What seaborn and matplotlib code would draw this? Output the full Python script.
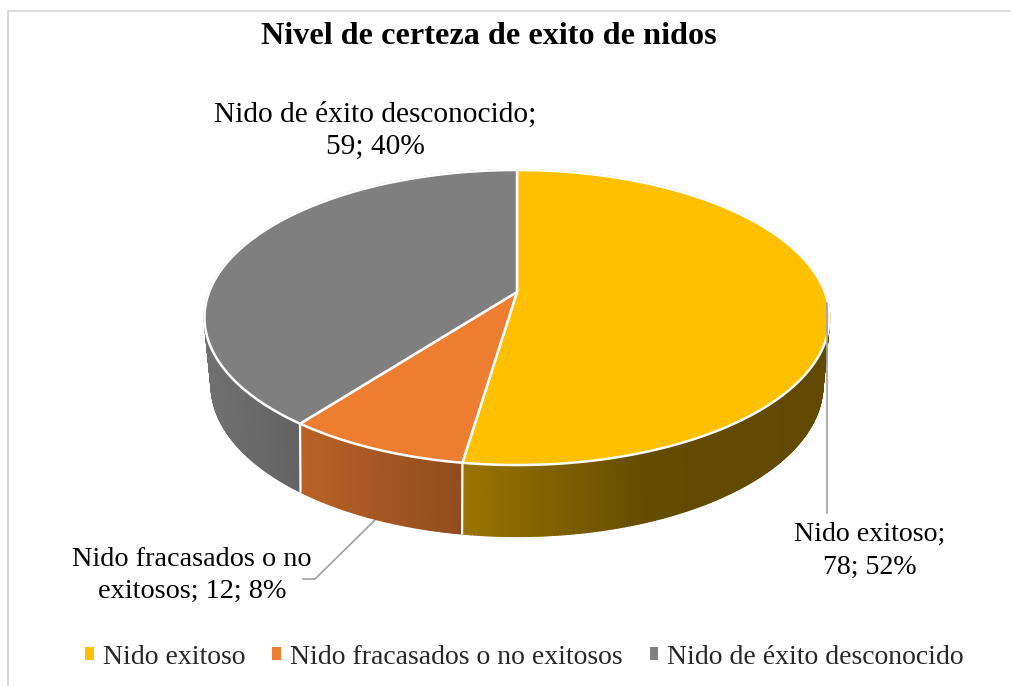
import numpy as np
import pandas as pd
import matplotlib.pyplot as plt
import seaborn as sns
from matplotlib.collections import PolyCollection
from matplotlib.patches import Patch

categorias = ['Nido exitoso', 'Nido fracasados o no exitosos', 'Nido de éxito desconocido']
valores = [78, 12, 59]
porcentajes = ['52%', '8%', '40%']
colores = ['#FFC000', '#ED7D31', '#7F7F7F']

sns.set_theme(style='white')
plt.rcParams['font.family'] = ['Liberation Serif', 'DejaVu Serif']

df = pd.DataFrame({'cat': categorias, 'val': valores, 'pct': porcentajes})
df['fin'] = df['val'].cumsum() / df['val'].sum() * 2 * np.pi
df['ini'] = df['fin'].shift(1).fillna(0)
paleta = sns.color_palette(colores)


# disco en perspectiva: angulo desde arriba, sentido horario
def tapa(t):
    d = 1 + 0.173 * np.cos(t)
    return 517 + 307.8 * np.sin(t) / d, 292 - 143.1 * np.cos(t) / d


def base(t):
    d = 1 + 0.2 * np.cos(t)
    return 517 + 299.5 * np.sin(t) / d, 355 - 145 * np.cos(t) / d


def sombra(x):
    return np.interp(x, [205, 303, 462, 650, 830], [0.88, 0.78, 0.61, 0.39, 0.38])


fig = plt.figure(figsize=(10.12, 6.86), dpi=100)
ax = fig.add_axes([0, 0, 1, 1])
ax.set_xlim(0, 1012)
ax.set_ylim(686, 0)
ax.axis('off')

# marco
ax.plot([8, 8, 1012], [686, 11, 11], color='#D9D9D9', lw=1.5, zorder=1)

# lineas guia
ax.plot([827, 827], [303, 513], color='#A6A6A6', lw=1.3, zorder=6)
ax.plot([375, 315, 303], [520, 579, 579], color='#A6A6A6', lw=1.3, zorder=1)

# lateral
for i, fila in df.iterrows():
    t = np.linspace(fila['ini'], fila['fin'], int((fila['fin'] - fila['ini']) * 120) + 2)
    x0, y0 = tapa(t)
    x1, y1 = base(t)
    quads = []
    tonos = []
    for k in range(len(t) - 1):
        quads.append([(x0[k], y0[k]), (x0[k + 1], y0[k + 1]), (x1[k + 1], y1[k + 1]), (x1[k], y1[k])])
        tonos.append(np.array(paleta[i]) * sombra((x0[k] + x1[k]) / 2))
    ax.add_collection(PolyCollection(quads, facecolors=tonos, edgecolors=tonos, linewidths=1.2, zorder=2))

# separaciones del lateral
for ang in df['fin'].iloc[:2]:
    xa, ya = tapa(ang)
    xb, yb = base(ang)
    ax.plot([xa, xb], [ya, yb], color='white', lw=1.6, zorder=3)

# tapa
for i, fila in df.iterrows():
    t = np.linspace(fila['ini'], fila['fin'], 300)
    xs, ys = tapa(t)
    xh, yh = 517, 292
    ax.fill(np.r_[xh, xs], np.r_[yh, ys], facecolor=paleta[i], edgecolor='white', lw=1.8, joinstyle='round', zorder=4)

# etiquetas
etq = dict(ha='center', va='center', color='black', zorder=7)
ax.text(870, 551, f"{df.cat[0]};\n{df.val[0]}; {df.pct[0]}", fontsize=20.1, linespacing=1.38, **etq)
ax.text(192, 575, f"Nido fracasados o no\nexitosos; {df.val[1]}; {df.pct[1]}", fontsize=20.3, linespacing=1.36, **etq)
ax.text(375, 130.5, f"{df.cat[2]};\n{df.val[2]}; {df.pct[2]}", fontsize=21.2, linespacing=1.3, **etq)

ax.text(489, 37, 'Nivel de certeza de exito de nidos', ha='center', va='center', fontsize=23.2, fontweight='bold', color='black')

handles = [Patch(facecolor=c, edgecolor='none', label=n) for c, n in zip(colores, categorias)]
ax.legend(handles=handles, ncol=3, loc='center', bbox_to_anchor=(524.5 / 1012, 1 - 657 / 686), frameon=False,
          fontsize=20, handlelength=0.31, handleheight=0.31, handletextpad=0.33, columnspacing=0.97, borderpad=0)

fig.savefig('out.png', dpi=100)
